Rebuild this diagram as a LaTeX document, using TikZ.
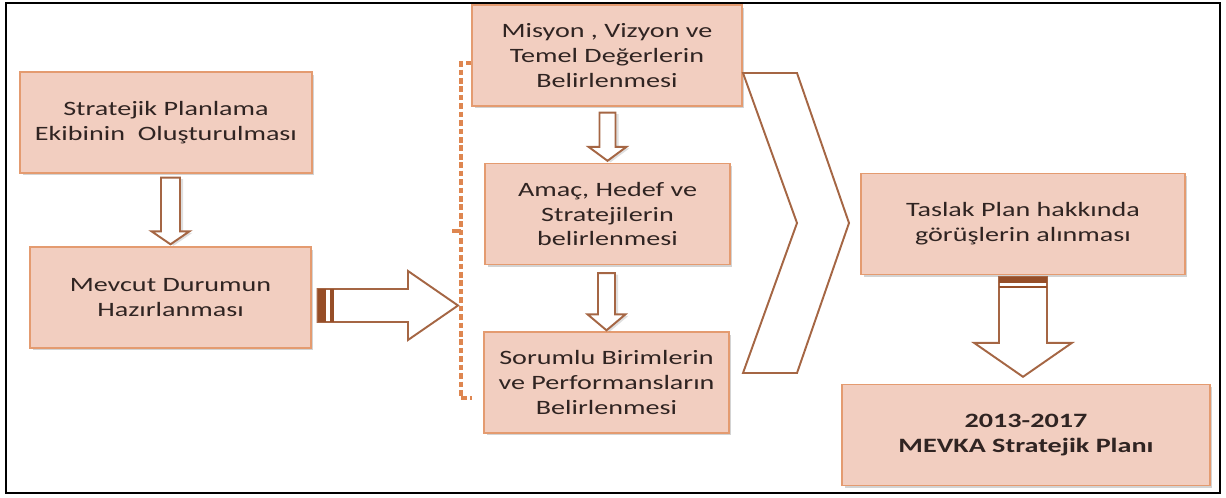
\documentclass[tikz,border=0pt]{standalone}
\usepackage{fontspec}
\setmainfont{Carlito}[FakeStretch=1.38]
\usetikzlibrary{calc,shadows}

\definecolor{boxfill}{RGB}{242,206,192}
\definecolor{boxline}{RGB}{228,155,112}
\definecolor{arrline}{RGB}{165,102,68}
\definecolor{stubfill}{RGB}{150,78,40}
\definecolor{dashline}{RGB}{222,134,80}
\definecolor{textcol}{RGB}{48,36,34}

\tikzset{
  phase/.style={draw=boxline, fill=boxfill, line width=0.8pt, minimum height=2.02cm,
    inner sep=0pt, align=center, text=textcol, font=\fontsize{11.6}{14.2}\selectfont,
    drop shadow={shadow xshift=0.05cm, shadow yshift=-0.05cm, opacity=0.35}},
  hollow/.style={draw=arrline, fill=white, line width=1.1pt, line join=miter},
  glow/.style={drop shadow={shadow xshift=0.06cm, shadow yshift=-0.03cm, opacity=0.25}},
  bracket/.style={draw=dashline, line width=1.9pt, dash pattern=on 3.2pt off 1.6pt}
}

% hollow block arrows: [style]{tail}{tip}{shaft half}{head half}{head length}
\newcommand{\downblock}[6][]{%
  \draw[hollow,#1] ($(#2)+(-#4,0)$) -- ($(#2)+(#4,0)$) -- ($(#3)+(#4,-#6)$)
    -- ($(#3)+(#5,-#6)$) -- (#3) -- ($(#3)+(-#5,-#6)$) -- ($(#3)+(-#4,-#6)$) -- cycle;}
\newcommand{\rightblock}[6][]{%
  \draw[hollow,#1] ($(#2)+(0,-#4)$) -- ($(#3)+(-#6,-#4)$) -- ($(#3)+(-#6,-#5)$)
    -- (#3) -- ($(#3)+(-#6,#5)$) -- ($(#3)+(-#6,#4)$) -- ($(#2)+(0,#4)$) -- cycle;}

\begin{document}
\begin{tikzpicture}[x=0.02cm, y=-0.02cm]
  \useasboundingbox (0,0) rectangle (1226,497);
  \draw[black, line width=1.2pt] (6,3) rectangle (1220,493);

  % stages
  \node[phase, minimum width=5.84cm] (plan) at (166,122.5) {Stratejik Planlama\\Ekibinin\ \ Oluşturulması};
  \node[phase, minimum width=5.62cm] (mevcut) at (170.5,297.5) {Mevcut Durumun\\Hazırlanması};
  \node[phase, minimum width=5.4cm] (misyon) at (607,55.5) {Misyon , Vizyon ve\\Temel Değerlerin\\Belirlenmesi};
  \node[phase, minimum width=4.9cm] (amac) at (607.5,214) {Amaç, Hedef ve\\Stratejilerin\\belirlenmesi};
  \node[phase, minimum width=4.9cm] (sorumlu) at (606.5,382.5) {Sorumlu Birimlerin\\ve Performansların\\Belirlenmesi};
  \node[phase, minimum width=6.48cm] (taslak) at (1023,224) {Taslak Plan hakkında\\görüşlerin alınması};
  \node[phase, minimum width=7.36cm, font=\fontsize{11.6}{14.2}\selectfont\bfseries] (sonplan) at (1026,435) {2013-2017\\MEVKA Stratejik Planı};

  % downward arrows
  \coordinate (t1) at ($(plan.south -| mevcut.north)+(0,4)$);
  \coordinate (h1) at ($(mevcut.north)+(0,-2)$);
  \downblock[glow]{t1}{h1}{9.5}{19}{13}
  \coordinate (t2) at ($(misyon.south -| amac.north)+(0,6)$);
  \coordinate (h2) at ($(amac.north)+(0,-2)$);
  \downblock[glow]{t2}{h2}{8}{19}{14}
  \coordinate (t3) at ($(amac.south -| sorumlu.north)+(0,8)$);
  \coordinate (h3) at ($(sorumlu.north)+(0,-1)$);
  \downblock[glow]{t3}{h3}{8.5}{19}{16}

  % bracket round the middle column
  \coordinate (brtop) at (misyon.west |- 0,63);
  \coordinate (brbot) at ($(sorumlu.west |- 0,398)+(-11,0)$);
  \coordinate (brmid) at (461,231);
  \draw[bracket] (brtop) -- (brtop -| brmid) -- (brbot -| brmid) -- (brbot);
  \draw[dashline, line width=1.9pt] (brmid) -- ++(-9,0);

  % arrow into the bracket
  \coordinate (t4) at ($(mevcut.east)+(6,8)$);
  \coordinate (h4) at ($(t4 -| brmid)+(-3,0)$);
  \rightblock{t4}{h4}{16.5}{34.5}{50}
  \fill[stubfill] ($(t4)+(0,-16.5)$) rectangle ($(t4)+(8,16.5)$);
  \fill[stubfill] ($(t4)+(12,-16.5)$) rectangle ($(t4)+(16,16.5)$);

  % chevron
  \draw[hollow] (743,73) -- (797,73) -- (849,223) -- (797,373) -- (743,373) -- (797,223) -- cycle;

  % arrow to the final plan
  \coordinate (t5) at ($(taslak.south)+(0,2)$);
  \coordinate (h5) at ($(taslak.south |- sonplan.north)+(0,-7)$);
  \downblock{t5}{h5}{24}{49}{34}
  \fill[stubfill] ($(t5)+(-24,0)$) rectangle ($(t5)+(24,6)$);
  \draw[stubfill, line width=0.9pt] ($(t5)+(-24,10)$) -- ($(t5)+(24,10)$);
\end{tikzpicture}
\end{document}
